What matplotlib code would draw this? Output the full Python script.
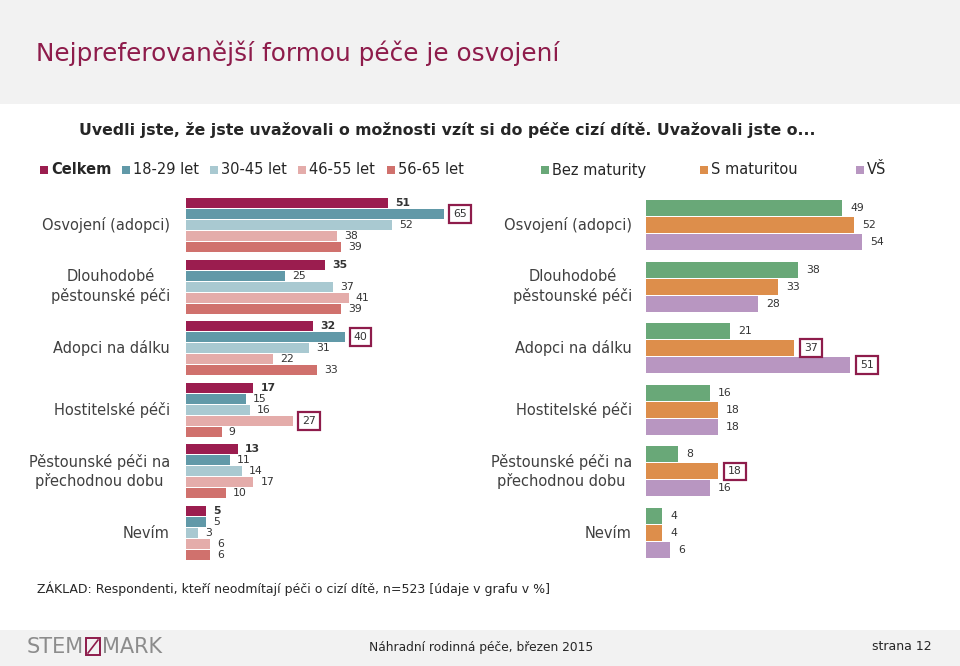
import matplotlib
matplotlib.use('Agg')
import matplotlib.pyplot as plt
from matplotlib.patches import Rectangle
from matplotlib.lines import Line2D

plt.rcParams['font.family'] = ['DejaVu Sans']

W, H = 960, 666
fig = plt.figure(figsize=(9.6, 6.66), dpi=100)
fig.patch.set_facecolor('white')


def fx(x):
    return x / W


def fy(y):
    return 1 - y / H


# ---------------- data ----------------
categories = ["Osvojení (adopci)", "Dlouhodobé\npěstounské péči", "Adopci na dálku",
              "Hostitelské péči", "Pěstounské péči na\npřechodnou dobu", "Nevím"]
age_series = ["Celkem", "18-29 let", "30-45 let", "46-55 let", "56-65 let"]
celkem = [51, 35, 32, 17, 13, 5]
age_18_29 = [65, 25, 40, 15, 11, 5]
age_30_45 = [52, 37, 31, 16, 14, 3]
age_46_55 = [38, 41, 22, 27, 17, 6]
age_56_65 = [39, 39, 33, 9, 10, 6]
edu_series = ["Bez maturity", "S maturitou", "VŠ"]
bez_maturity = [49, 38, 21, 16, 8, 4]
s_maturitou = [52, 33, 37, 18, 18, 4]
vs = [54, 28, 51, 18, 16, 6]
# highlighted (boxed) values: (series index, category index)
left_highlight = [(1, 0), (1, 2), (3, 3)]
right_highlight = [(1, 2), (2, 2), (1, 4)]

age_colors = ['#9B1D4F', '#6199A8', '#A9C9D1', '#E4ACAA', '#D0716D']
edu_colors = ['#69A878', '#DD8E4B', '#B896C1']
box_color = '#8E1C4B'
text_color = '#404040'

# ---------------- header / footer bands ----------------
fig.patches.append(Rectangle((0, fy(104)), 1, 104 / H, transform=fig.transFigure,
                             facecolor='#F2F2F2', edgecolor='none', zorder=0))
fig.patches.append(Rectangle((0, 0), 1, 36 / H, transform=fig.transFigure,
                             facecolor='#F2F2F2', edgecolor='none', zorder=0))

fig.text(fx(36), fy(53), "Nejpreferovanější formou péče je osvojení", color=box_color,
         fontsize=17.8, va='center', ha='left')
fig.text(fx(447), fy(130), "Uvedli jste, že jste uvažovali o možnosti vzít si do péče cizí dítě. Uvažovali jste o...",
         color='#262626', fontsize=11.3, fontweight='bold', va='center', ha='center')

# ---------------- legend ----------------
age_leg_x = [40, 122, 210, 298, 387]
edu_leg_x = [541, 700, 856]
ly = 170
for name, c, x in zip(age_series, age_colors, age_leg_x):
    fig.patches.append(Rectangle((fx(x), fy(ly + 4)), 8 / W, 8 / H, transform=fig.transFigure,
                                 facecolor=c, edgecolor='none'))
    fig.text(fx(x + 11), fy(ly), name, fontsize=10.5, va='center', ha='left', color='#262626',
             fontweight='bold' if name == 'Celkem' else 'normal')
for name, c, x in zip(edu_series, edu_colors, edu_leg_x):
    fig.patches.append(Rectangle((fx(x), fy(ly + 4)), 8 / W, 8 / H, transform=fig.transFigure,
                                 facecolor=c, edgecolor='none'))
    fig.text(fx(x + 11), fy(ly), name, fontsize=10.5, va='center', ha='left', color='#262626')

# ---------------- axes ----------------
grp = 61.6
top = 225 - grp / 2
bot = 533 + grp / 2
n = len(categories)

axL = fig.add_axes([fx(186), fy(bot), 397 / W, (bot - top) / H])
axL.set_xlim(0, 100)
axL.set_ylim(n - 0.5, -0.5)
axL.axis('off')

axR = fig.add_axes([fx(646), fy(bot), 300 / W, (bot - top) / H])
axR.set_xlim(0, 75)
axR.set_ylim(n - 0.5, -0.5)
axR.axis('off')

left_data = [celkem, age_18_29, age_30_45, age_46_55, age_56_65]
pitchL = 11 / grp
hL = 10 / grp
for k, (vals, c) in enumerate(zip(left_data, age_colors)):
    ys = [i + (k - 2) * pitchL for i in range(n)]
    axL.barh(ys, vals, height=hL, color=c, edgecolor='none')
    for i, (y, v) in enumerate(zip(ys, vals)):
        boxed = (k, i) in left_highlight
        kw = {}
        if boxed:
            kw['bbox'] = dict(boxstyle='square,pad=0.35', fc='white', ec=box_color, lw=1.6)
        axL.annotate(str(v), xy=(v, y), xytext=(9 if boxed else 7, 0), textcoords='offset pixels',
                     va='center', ha='left', fontsize=7.8, color='#333333',
                     fontweight='bold' if k == 0 else 'normal', **kw)

right_data = [bez_maturity, s_maturitou, vs]
pitchR = 17 / grp
hR = 16 / grp
for k, (vals, c) in enumerate(zip(right_data, edu_colors)):
    ys = [i + (k - 1) * pitchR for i in range(n)]
    axR.barh(ys, vals, height=hR, color=c, edgecolor='none')
    for i, (y, v) in enumerate(zip(ys, vals)):
        boxed = (k, i) in right_highlight
        kw = {}
        if boxed:
            kw['bbox'] = dict(boxstyle='square,pad=0.35', fc='white', ec=box_color, lw=1.6)
        axR.annotate(str(v), xy=(v, y), xytext=(10 if boxed else 8, 0), textcoords='offset pixels',
                     va='center', ha='left', fontsize=7.8, color='#333333', **kw)

# category labels
for i, cat in enumerate(categories):
    yc = 225 + i * grp
    fig.text(fx(170), fy(yc), cat, ha='right', va='center', multialignment='center',
             fontsize=10.5, color=text_color, linespacing=1.25)
    fig.text(fx(632), fy(yc), cat, ha='right', va='center', multialignment='center',
             fontsize=10.5, color=text_color, linespacing=1.25)

# footnote
fig.text(fx(37), fy(589), "ZÁKLAD: Respondenti, kteří neodmítají péči o cizí dítě, n=523 [údaje v grafu v %]",
         fontsize=9, color='#262626', va='center', ha='left')

# footer
fig.text(fx(27), fy(647), "STEM", fontsize=15, color='#8C8C8C', va='center', ha='left')
fig.patches.append(Rectangle((fx(86), fy(655)), 14 / W, 17 / H, transform=fig.transFigure,
                             facecolor='none', edgecolor=box_color, lw=1.4))
fig.lines.append(Line2D([fx(88), fx(98)], [fy(653), fy(640)], transform=fig.transFigure,
                        color=box_color, lw=1.2))
fig.text(fx(102), fy(647), "MARK", fontsize=15, color='#8C8C8C', va='center', ha='left')
fig.text(fx(481), fy(647), "Náhradní rodinná péče, březen 2015", fontsize=8.85, color='#262626',
         va='center', ha='center')
fig.text(fx(932), fy(647), "strana 12", fontsize=9, color='#262626', va='center', ha='right')

fig.savefig('out.png', dpi=100)
